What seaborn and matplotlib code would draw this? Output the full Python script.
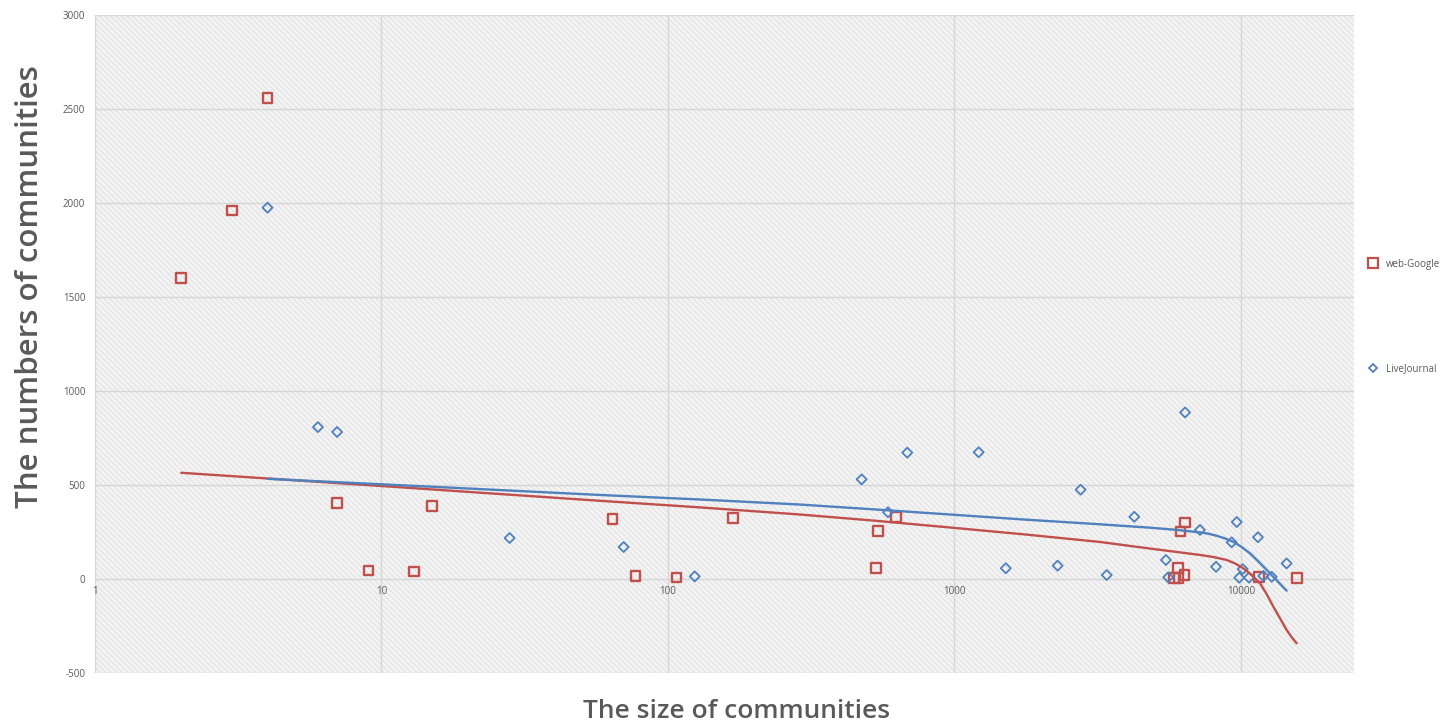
import numpy as np
import pandas as pd
import matplotlib
matplotlib.use("Agg")
import matplotlib.pyplot as plt
from matplotlib.patches import Rectangle
import seaborn as sns

# community sizes and how many communities of each size
google_size = [2, 3, 4, 7, 9, 13, 15, 64, 77, 107, 169, 532, 541, 625,
               5835, 6012, 6060, 6150, 6353, 6370, 11580, 15720]
google_count = [1600, 1960, 2560, 405, 45, 40, 388, 319, 16, 8, 325, 58, 255, 330,
                4, 60, 4, 252, 20, 300, 9, 4]

lj_size = [4, 6, 7, 28, 70, 124, 474, 586, 684, 1214, 1510, 2291, 2755, 3398,
           4243, 5470, 5570, 6380, 7190, 8180, 9280, 9660, 9860, 10140, 10660,
           11460, 11960, 12800, 14430]
lj_count = [1975, 808, 782, 218, 170, 14, 530, 355, 672, 674, 57, 71, 475, 21,
            331, 101, 9, 886, 261, 65, 195, 303, 7, 53, 7, 222, 16, 12, 83]

# trend curves for both networks
google_fit_size = [2, 11.6, 57.9, 129, 289, 528, 964, 1762, 3220, 4810, 7190,
                   8005, 8920, 9530, 10190, 10900, 11650, 12300, 12970, 13680,
                   14430, 15030, 15640]
google_fit_count = [565, 488, 416, 381, 343, 310, 274, 237, 197, 162, 128,
                    117, 101, 83, 57, 21, -23, -81, -147, -209,
                    -271, -310, -342]

lj_fit_size = [4, 11.6, 57.9, 129, 289, 528, 964, 1762, 3220, 4810, 5885, 7190,
               7690, 8220, 8795, 9400, 10060, 10740, 11490, 12300, 13320, 14430]
lj_fit_count = [533, 499, 447, 423, 396, 370, 343, 316, 291, 273, 262, 248,
                241, 230, 216, 198, 170, 137, 94, 48, -7, -62]

y_ticks = [-500, 0, 500, 1000, 1500, 2000, 2500, 3000]
x_ticks = [1, 10, 100, 1000, 10000]
x_tick_labels = ["1", "10", "100", "1000", "10000"]

RED = "#c0504d"
BLUE = "#4f81bd"
GREY_TXT = "#595959"

sns.set_theme(style="white")
plt.rcParams["font.family"] = ["Open Sans", "DejaVu Sans"]
plt.rcParams["hatch.linewidth"] = 0.6

google = pd.DataFrame({"size": google_size, "count": google_count})
lj = pd.DataFrame({"size": lj_size, "count": lj_count})
google_fit = pd.DataFrame({"size": google_fit_size, "count": google_fit_count})
lj_fit = pd.DataFrame({"size": lj_fit_size, "count": lj_fit_count})

fig = plt.figure(figsize=(14.42, 7.27), dpi=100)
ax = fig.add_axes([95 / 1442, 1 - 673 / 727, (1354 - 95) / 1442, (673 - 15) / 727])

# hatched plot-area background
ax.set_facecolor("#f3f3f3")
ax.add_patch(Rectangle((0, 0), 1, 1, transform=ax.transAxes, facecolor="#f3f3f3",
                       edgecolor="#dedede", hatch="\\\\\\\\\\\\", linewidth=0, zorder=0))

sns.scatterplot(data=google, x="size", y="count", ax=ax, marker="s", s=48,
                facecolor="none", edgecolor=RED, linewidth=1.7, zorder=3,
                label="web-Google", legend=False)
sns.scatterplot(data=lj, x="size", y="count", ax=ax, marker="D", s=26,
                facecolor="none", edgecolor=BLUE, linewidth=1.3, zorder=3,
                label="LiveJournal", legend=False)

sns.lineplot(data=google_fit, x="size", y="count", ax=ax, color=RED, lw=1.7,
             sort=False, estimator=None, zorder=4, legend=False)
sns.lineplot(data=lj_fit, x="size", y="count", ax=ax, color=BLUE, lw=1.7,
             sort=False, estimator=None, zorder=4, legend=False)

ax.set_xscale("log")
ax.set_xlim(1, 10 ** ((1354 - 95) / 286.5))
ax.set_ylim(-500, 3000)
ax.set_yticks(y_ticks)
ax.set_yticklabels([str(v) for v in y_ticks])
ax.set_xticks(x_ticks)
ax.set_xticklabels(x_tick_labels)
ax.xaxis.set_minor_locator(matplotlib.ticker.NullLocator())

ax.set_axisbelow(True)
ax.grid(True, which="major", color="#d6d6d6", linewidth=1.0)

# category axis crosses at zero
ax.spines["bottom"].set_position(("data", 0))
for sp in ax.spines.values():
    sp.set_color("none")
ax.tick_params(axis="both", length=0, labelsize=7, labelcolor=GREY_TXT)
ax.tick_params(axis="x", pad=5)
ax.tick_params(axis="y", pad=7)
ax.set_xlabel("")
ax.set_ylabel("")

fig.text(30 / 1442, 1 - 287 / 727, "The numbers of communities", rotation=90,
         ha="center", va="center", fontsize=22.5, fontweight="semibold", color=GREY_TXT)
fig.text(737 / 1442, 1 - 711 / 727, "The size of communities",
         ha="center", va="center", fontsize=19, fontweight="semibold", color=GREY_TXT)

handles = [
    plt.Line2D([], [], marker="s", ls="none", markersize=7, markerfacecolor="none",
               markeredgecolor=RED, markeredgewidth=1.6),
    plt.Line2D([], [], marker="D", ls="none", markersize=4.5, markerfacecolor="none",
               markeredgecolor=BLUE, markeredgewidth=1.3),
]
fig.legend(handles, ["web-Google", "LiveJournal"], loc="upper left",
           bbox_to_anchor=(1363 / 1442, 1 - 254 / 727), frameon=False,
           fontsize=7, labelcolor=GREY_TXT, labelspacing=9.6,
           handlelength=1.0, handletextpad=0.9, borderpad=0)

fig.savefig("out.png", dpi=100, facecolor="white")
